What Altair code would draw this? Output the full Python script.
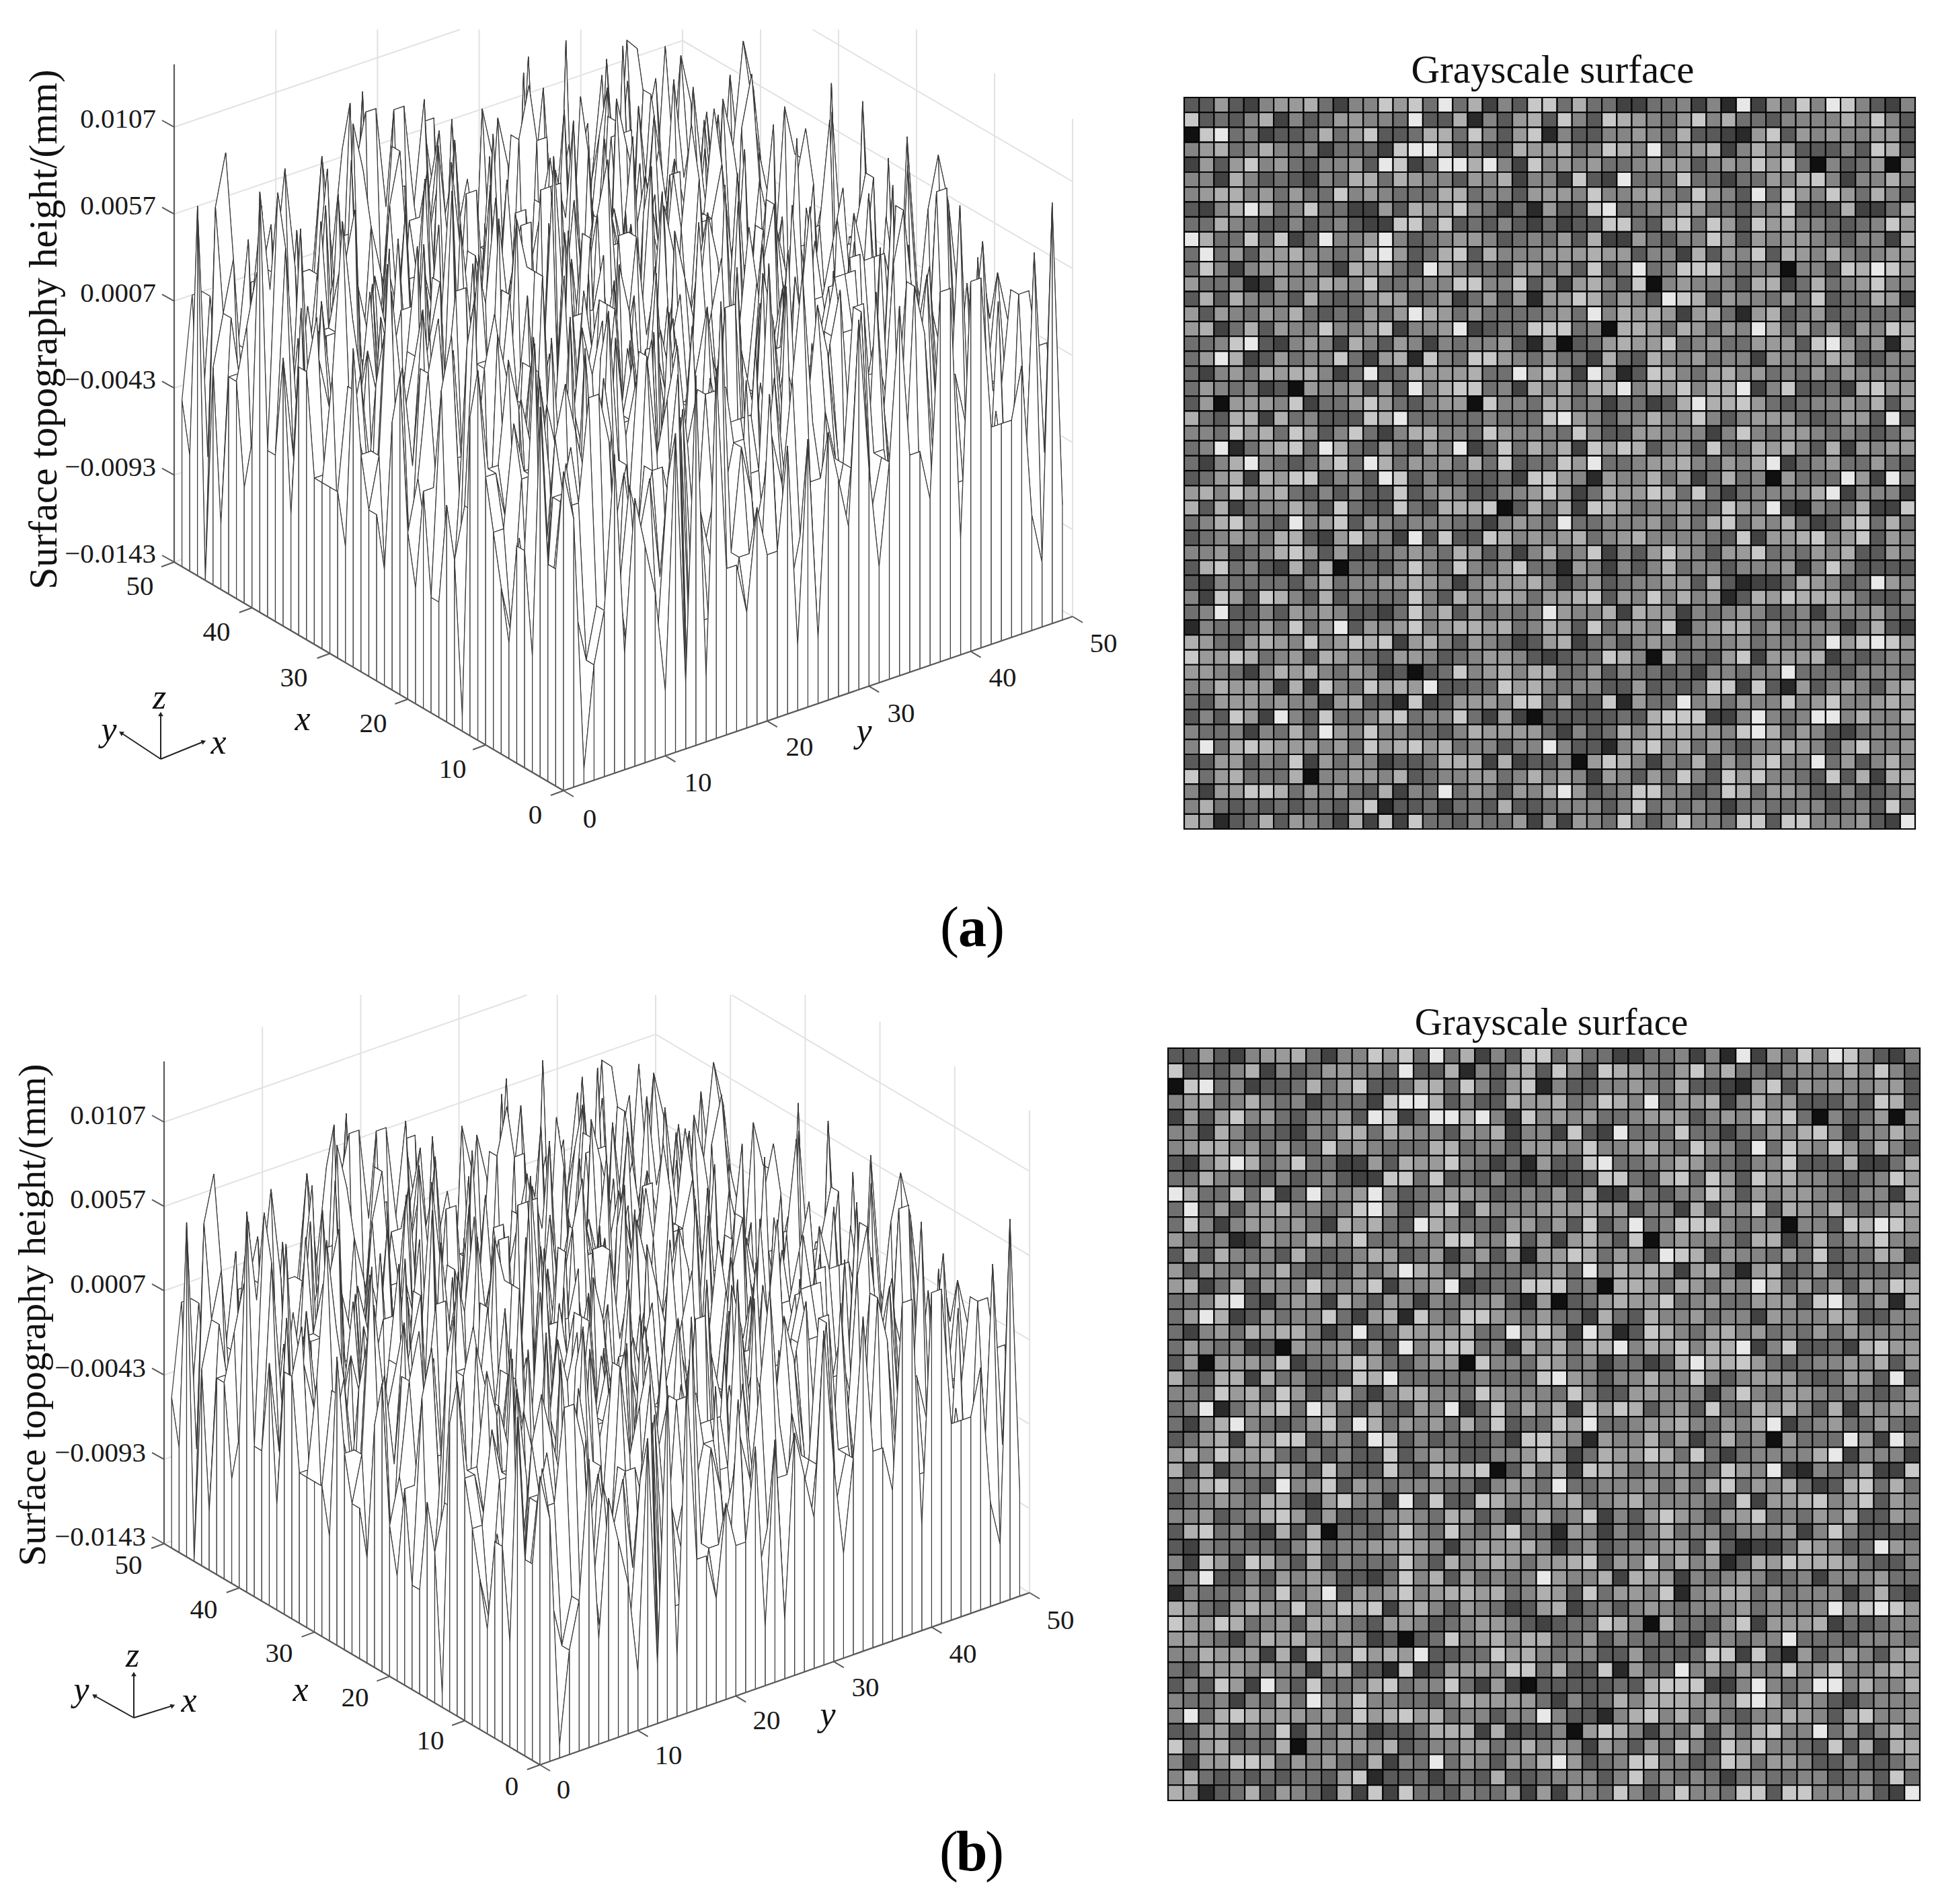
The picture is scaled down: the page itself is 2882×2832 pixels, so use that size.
import altair as alt
import pandas as pd

alt.data_transformers.disable_max_rows()

FONT = "Liberation Serif"
W, H = 2866, 2816
OFF = 8  # page margin

# Grey level (0 black .. 9 white) of every cell, top row first.
LEVELS_LEFT = [
"3363256674255868494725388","8343572534665549337153673","0894523347468334774853681",
"5674575452444289973533766","2636856435563982499795285","5527534325477476553657255",
"5677564644856544477455366","3257974584422637668542416","4475433534532288483435324",
"9744848249556953456653454","4946366755458963478375556","4852566564276743975443664",
"6445126557658445558855836","3737545374345763462463616","6365465743436469764644445",
"6724736558556825569234488","4458932565275365254556316","4697236455842671854886546",
"4256476775249347666744968","4654523065563639578845275","3606665824468643566085547",
"7437727453338794444454448","5548674863584257755486555","4591467849743643659248475",
"4257954346849746564748344","3467276883553983534334288","6758667435353383565335568",
"7372455753843384377780374","4578543956836545554425654","3456547732685529383387565",
"5563457863633456547635257","3784532737044358548546844","3254444357455667652566675",
"5286387537354448537567646","4593353656533248573645459","1544464846936568567767457",
"7643676585687826753654236","8668745637654366534566532","6654257675465230348567577",
"5576662728548676933448675","4366656552673318236665884","3538629538445784558426203",
"5445254749658554435766664","5947876665648678674553559","3366354826465233477727233",
"8467444705566573455664575","5266887465643725494653657","5743434344368133424437334",
"7613473654272828443544626",
]
LEVELS_RIGHT = [
"474422445251926485985325","853876546857443555575853","533556547332168365655663",
"745875946672575633353873","656445666356586840534606","283294448442446578525575",
"658556754865394865864753","338944557644355833372247","233884378486386755434586",
"637226435586365665435527","667663552736583765754566","638359458885455055387986",
"267538056555377247456855","687465398736554648344762","649576762674167346344445",
"845077647646597464636587","034676684564466638964617","442743755645526555763355",
"629613875467564546465555","747795768577925833427866","645244237977864345565736",
"965355755853566643466393","485336655525854665454346","728687356384476753726566",
"869445667546579245644643","651655746247450644496295","624766874842455557925552",
"728764556448659215447228","944555646478465742378474","674567555543826678568365",
"458253686536684546573365","165253574553555625853333","246345566373122476534965",
"678365857561376877764335","655727662545653452555644","638466581567746455524732",
"724535654555645555968986","344875074436826667243455","446354434255455944435554",
"455336343488283163565367","733816449564655856855676","333343788822595459957557",
"253475777665897465324555","533157857464355765368556","506875254736478559463575",
"652653648538685543837277","963458855348746653353346","555358454542454455345384",
"265485358554883885556329",
]
# Outer wire points that the grey map does not show (skyline estimates).
REAR_ROW_X49 = "46646535646546453635645463564556365463534465343231"
REAR_COL_Y49 = "3465645655364565463563545364535644354534353423423"  # x = 0..48
LEVEL_Z = [-0.0143, -0.0135, -0.0105, -0.0075, -0.0045, -0.0015, 0.0015, 0.0045, 0.0075, 0.0105]
GRAY_DOMAIN = [0, 1, 2, 3, 4, 5, 6, 7, 8, 9]
GRAY_RANGE = ["#101010", "#2a2a2a", "#424242", "#5a5a5a", "#707070", "#858585", "#9a9a9a", "#afafaf", "#c8c8c8", "#e8e8e8"]

Z_TICKS = [-0.0143, -0.0093, -0.0043, 0.0007, 0.0057, 0.0107]
Z_TICK_TEXT = ["\u22120.0143", "\u22120.0093", "\u22120.0043", "0.0007", "0.0057", "0.0107"]
XY_TICKS = [0, 10, 20, 30, 40, 50]
Z_BASE, Z_TOP = -0.0143, 0.0143

# image-pixel geometry of the two panels
PANELS = [
    dict(front=(838, 1176), left=(259, 836), right=(1595, 917), back=(1015, 578), zpx=129.4, clip=44,
         gain=0.975, peak_top=60,
         ztext_x=232, ztext_dy=-11,
         xlab=[(796, 1213), (673, 1145), (555, 1077), (437, 1009), (322, 941), (208, 873)],
         ylab=[(877, 1219), (1038, 1165), (1189, 1112), (1340, 1062), (1491, 1009), (1641, 958)],
         xtitle=(450, 1070), ytitle=(1285, 1088),
         ylabel=(66, 490, 59),
         triad=dict(o=(239, 1129), z=(239, 1062), y=(180, 1090), x=(303, 1103)),
         triad_text=dict(z=(237, 1038), y=(162, 1086), x=(325, 1105)),
         heat=(1761, 145, 2848, 1233), title=(2309, 105, 59),
         cap=(1446, 1382)),
    dict(front=(803, 2625), left=(244, 2296), right=(1531, 2369), back=(975, 2040), zpx=125.4, clip=1480,
         gain=0.91, peak_top=1577,
         ztext_x=217, ztext_dy=-9,
         xlab=[(761, 2658), (640, 2590), (528, 2526), (415, 2460), (303, 2395), (191, 2329)],
         ylab=[(838, 2663), (994, 2612), (1140, 2560), (1287, 2511), (1432, 2461), (1577, 2411)],
         xtitle=(447, 2514), ytitle=(1231, 2551),
         ylabel=(50, 1956, 57),
         triad=dict(o=(199, 2555), z=(199, 2490), y=(140, 2522), x=(257, 2537)),
         triad_text=dict(z=(197, 2463), y=(121, 2514), x=(281, 2530)),
         heat=(1737, 1559, 2855, 2678), title=(2307, 1522, 57),
         cap=(1445, 2757)),
]

HEAD = "Surface topography height/(mm)"


def px(p):
    return (p[0] - OFF, p[1] - OFF)


def project(p, x, y, z):
    u, v = x / 50.0, y / 50.0
    f, l, r, b = p["front"], p["left"], p["right"], p["back"]
    sx = f[0]*(1-u)*(1-v) + l[0]*u*(1-v) + r[0]*(1-u)*v + b[0]*u*v
    sy = f[1]*(1-u)*(1-v) + l[1]*u*(1-v) + r[1]*(1-u)*v + b[1]*u*v
    sy -= (z - Z_BASE) / 0.005 * p["zpx"]
    return (sx - OFF, sy - OFF)


def project_wire(p, x, y, z):
    """A surface point: scaled by the panel's height gain, cut off at the highest peak."""
    sx, sy = project(p, x, y, Z_BASE + (z - Z_BASE) * p["gain"])
    return (sx, max(sy, p["peak_top"] - OFF))


assert len(LEVELS_LEFT) == 49 and len(LEVELS_RIGHT) == 49
assert all(len(a) == 25 for a in LEVELS_LEFT)
assert all(len(a) == 24 for a in LEVELS_RIGHT)
GRID = [[int(c) for c in a + b] for a, b in zip(LEVELS_LEFT, LEVELS_RIGHT)]


def level_at(x, y):
    if x == 49:
        return int(REAR_ROW_X49[y])
    if y == 49:
        return int(REAR_COL_Y49[x])
    return GRID[48 - x][y]


def poly(points):
    ring = [[round(a, 1), round(b, 1)] for a, b in points]
    ring.append(ring[0])
    return {"type": "Feature", "properties": {}, "geometry": {"type": "Polygon", "coordinates": [ring]}}


def clip_seg(a, b, ymin):
    if a[1] < ymin and b[1] < ymin:
        return None
    if a[1] < ymin:
        t = (ymin - b[1]) / (a[1] - b[1])
        a = (b[0] + (a[0] - b[0]) * t, ymin)
    elif b[1] < ymin:
        t = (ymin - a[1]) / (b[1] - a[1])
        b = (a[0] + (b[0] - a[0]) * t, ymin)
    return a, b


mesh, grid_rows, axis_rows, tick_rows, triad_rows, head_rows = [], [], [], [], [], []
labels, italics = [], []
heat_layers = []

for p in PANELS:
    ymin = p["clip"] - OFF
    Z = {(x, y): LEVEL_Z[level_at(x, y)] for x in range(50) for y in range(50)}
    # painter's order: far corner first
    cells = sorted(((x, y) for x in range(49) for y in range(49)), key=lambda c: -(c[0] + c[1]))
    for x, y in cells:
        mesh.append(poly([project_wire(p, x+i, y+j, Z[(x+i, y+j)]) for i, j in [(0, 0), (1, 0), (1, 1), (0, 1)]]))
    for k in range(48, -1, -1):
        mesh.append(poly([project(p, k, 0, Z_BASE), project(p, k+1, 0, Z_BASE),
                          project_wire(p, k+1, 0, Z[(k+1, 0)]), project_wire(p, k, 0, Z[(k, 0)])]))
        mesh.append(poly([project(p, 0, k, Z_BASE), project(p, 0, k+1, Z_BASE),
                          project_wire(p, 0, k+1, Z[(0, k+1)]), project_wire(p, 0, k, Z[(0, k)])]))

    def seg(store, a, b):
        store.append({"x": a[0], "y": a[1], "x2": b[0], "y2": b[1]})

    # back walls
    for t in XY_TICKS:
        for a, b in [(project(p, 50, t, Z_BASE), project(p, 50, t, Z_TOP)),
                     (project(p, t, 50, Z_BASE), project(p, t, 50, Z_TOP))]:
            c = clip_seg(a, b, ymin)
            if c:
                seg(grid_rows, *c)
    for z in Z_TICKS:
        for a, b in [(project(p, 50, 0, z), project(p, 50, 50, z)),
                     (project(p, 50, 50, z), project(p, 0, 50, z))]:
            c = clip_seg(a, b, ymin)
            if c:
                seg(grid_rows, *c)

    # axes
    seg(axis_rows, project(p, 50, 0, Z_BASE), project(p, 50, 0, Z_TOP))
    seg(axis_rows, project(p, 50, 0, Z_BASE), project(p, 0, 0, Z_BASE))
    seg(axis_rows, project(p, 0, 0, Z_BASE), project(p, 0, 50, Z_BASE))
    for t in XY_TICKS:
        a = project(p, t, 0, Z_BASE)
        seg(tick_rows, a, (a[0] - 19, a[1] + 7))
        a = project(p, 0, t, Z_BASE)
        seg(tick_rows, a, (a[0] + 15, a[1] + 9))
    for z, s in zip(Z_TICKS, Z_TICK_TEXT):
        a = project(p, 50, 0, z)
        seg(tick_rows, a, (a[0] - 18, a[1] - 10))
        labels.append({"x": p["ztext_x"] - OFF, "y": a[1] + p["ztext_dy"], "t": s, "align": "right", "size": 41})
    for t, xy in zip(XY_TICKS, p["xlab"]):
        q = px(xy)
        labels.append({"x": q[0], "y": q[1], "t": str(t), "align": "center", "size": 41})
    for t, xy in zip(XY_TICKS, p["ylab"]):
        q = px(xy)
        labels.append({"x": q[0], "y": q[1], "t": str(t), "align": "center", "size": 41})

    q = px(p["xtitle"]); italics.append({"x": q[0], "y": q[1], "t": "x"})
    q = px(p["ytitle"]); italics.append({"x": q[0], "y": q[1], "t": "y"})
    for k, v in p["triad_text"].items():
        q = px(v); italics.append({"x": q[0], "y": q[1], "t": k})

    o = px(p["triad"]["o"])
    for k, ang in [("z", 0), ("y", 303), ("x", 68)]:
        tip = px(p["triad"][k])
        seg(triad_rows, o, tip)
        head_rows.append({"x": tip[0], "y": tip[1], "a": ang})

    # grey map
    x0, y0, x1, y1 = p["heat"]
    cells_df = pd.DataFrame([
        {"c": c, "c2": c + 1, "r": r, "r2": r + 1, "level": GRID[r][c]}
        for r in range(49) for c in range(49)
    ])
    heat_layers.append(
        alt.Chart(cells_df).mark_rect(stroke="#050505", strokeWidth=2.2).encode(
            x=alt.X("c:Q", scale=alt.Scale(domain=[0, 49], range=[x0 - OFF, x1 - OFF], nice=False, zero=False), axis=None),
            x2="c2:Q",
            y=alt.Y("r:Q", scale=alt.Scale(domain=[0, 49], range=[y0 - OFF, y1 - OFF], nice=False, zero=False), axis=None),
            y2="r2:Q",
            color=alt.Color("level:Q", scale=alt.Scale(domain=GRAY_DOMAIN, range=GRAY_RANGE), legend=None),
        )
    )

PX = alt.Scale(domain=[0, W], range=[0, W], nice=False, zero=False)
PY = alt.Scale(domain=[0, H], range=[0, H], nice=False, zero=False)
ENC = dict(x=alt.X("x:Q", scale=PX, axis=None), y=alt.Y("y:Q", scale=PY, axis=None))


def rules(rows, color, width):
    return alt.Chart(pd.DataFrame(rows)).mark_rule(color=color, strokeWidth=width).encode(
        **ENC, x2="x2:Q", y2="y2:Q")


frame = alt.Chart(alt.InlineData(values={"type": "FeatureCollection", "features": [poly([(0, 0), (W, 0), (W, H), (0, H)])]},
                                 format=alt.DataFormat(property="features"))).mark_geoshape(
    fill="transparent", stroke="transparent", strokeWidth=0).project(type="identity")
surface = alt.Chart(alt.InlineData(values={"type": "FeatureCollection", "features": mesh},
                                   format=alt.DataFormat(property="features"))).mark_geoshape(
    fill="white", stroke="#3a3a3a", strokeWidth=1.2).project(type="identity")

label_df = pd.DataFrame(labels)
plain = []
for size, align in [(41, "right"), (41, "center")]:
    d = label_df[(label_df["align"] == align)]
    plain.append(alt.Chart(d).mark_text(font=FONT, fontSize=size, align=align, baseline="middle", color="#1a1a1a").encode(**ENC, text="t:N"))

ital = alt.Chart(pd.DataFrame(italics)).mark_text(font=FONT, fontSize=52, fontStyle="italic", baseline="middle", color="#111111").encode(**ENC, text="t:N")

head_layer = alt.Chart(pd.DataFrame(head_rows)).mark_point(shape="triangle-up", filled=True, color="#222222", size=60, opacity=1).encode(
    **ENC, angle=alt.Angle("a:Q", scale=None))

titles = []
for p in PANELS:
    x, y, s = p["ylabel"]
    titles.append(alt.Chart(pd.DataFrame([{"x": x - OFF, "y": y - OFF, "t": HEAD}])).mark_text(
        font=FONT, fontSize=s, angle=270, align="center", baseline="middle", color="#111111").encode(**ENC, text="t:N"))
    x, y, s = p["title"]
    titles.append(alt.Chart(pd.DataFrame([{"x": x - OFF, "y": y - OFF, "t": "Grayscale surface"}])).mark_text(
        font=FONT, fontSize=s, align="center", baseline="middle", color="#111111").encode(**ENC, text="t:N"))
    cx, cy = p["cap"]
    letter = "a" if p is PANELS[0] else "b"
    titles.append(alt.Chart(pd.DataFrame([{"x": cx - 34 - OFF, "y": cy - OFF, "t": "("}, {"x": cx + 34 - OFF, "y": cy - OFF, "t": ")"}])).mark_text(
        font=FONT, fontSize=84, align="center", baseline="middle", color="#000000").encode(**ENC, text="t:N"))
    titles.append(alt.Chart(pd.DataFrame([{"x": cx - OFF, "y": cy - OFF, "t": letter}])).mark_text(
        font=FONT, fontSize=84, fontWeight="bold", align="center", baseline="middle", color="#000000").encode(**ENC, text="t:N"))

chart = alt.layer(
    frame,
    rules(grid_rows, "#e2e2e2", 2),
    surface,
    rules(axis_rows, "#5a5a5a", 2.2),
    rules(tick_rows, "#5a5a5a", 2),
    rules(triad_rows, "#222222", 2),
    head_layer,
    *plain, ital, *titles, *heat_layers,
).resolve_scale(x="independent", y="independent", color="independent").properties(
    width=W, height=H, padding=0, background="white", autosize=alt.AutoSizeParams(type="none")
).configure_view(stroke=None)

chart.save("out.html", embed_options={"renderer": "svg", "actions": False})
